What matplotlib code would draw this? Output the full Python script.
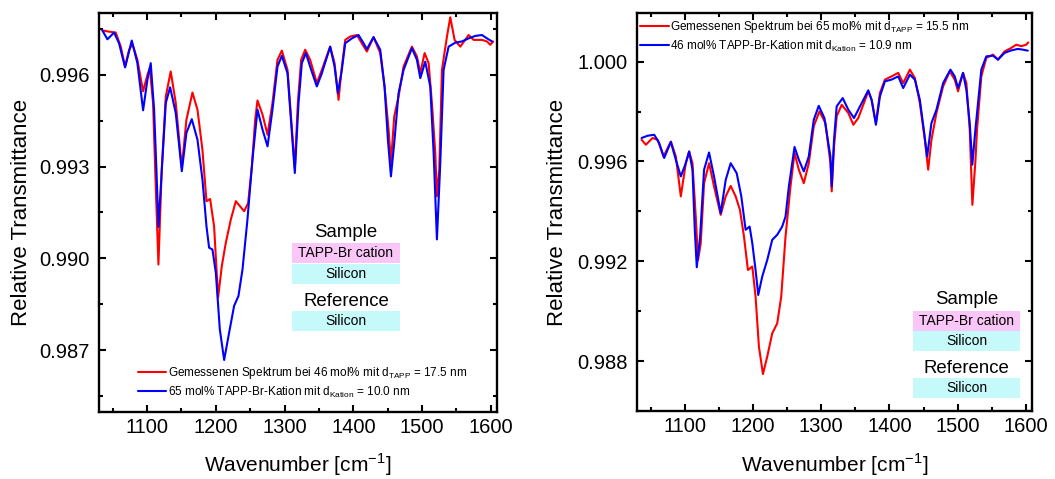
import matplotlib

matplotlib.use("Agg")
import matplotlib.pyplot as plt
from matplotlib.patches import Rectangle
from matplotlib.ticker import MultipleLocator, FormatStrFormatter

plt.rcParams["font.family"] = ["Liberation Sans", "DejaVu Sans"]
plt.rcParams["mathtext.fontset"] = "custom"
plt.rcParams["mathtext.rm"] = "Liberation Sans"
plt.rcParams["lines.solid_joinstyle"] = "round"
plt.rcParams["lines.solid_capstyle"] = "round"

# ---- left panel: 46 mol% measured vs 65 mol% cation ----
left_red_wn = [1035.0, 1044.7, 1054.4, 1061.7, 1068.0, 1073.8, 1078.7, 1085.9, 1094.2, 1100.5,
               1103.9, 1108.7, 1112.6, 1116.5, 1121.3, 1127.2, 1134.4, 1141.7, 1150.5, 1157.2,
               1166.0, 1173.3, 1180.5, 1186.4, 1191.7, 1197.5, 1203.3, 1208.7, 1214.5, 1221.8,
               1229.1, 1234.9, 1241.2, 1247.0, 1252.4, 1257.2, 1260.6, 1267.9, 1275.2, 1282.4,
               1289.7, 1296.0, 1304.3, 1314.9, 1319.3, 1324.1, 1330.0, 1337.2, 1346.9, 1354.2,
               1366.3, 1372.7, 1378.5, 1383.3, 1388.2, 1395.5, 1405.2, 1412.4, 1419.7, 1429.4,
               1439.1, 1445.4, 1451.3, 1454.7, 1459.5, 1465.8, 1473.1, 1485.2, 1492.5, 1497.4,
               1503.7, 1509.5, 1514.3, 1519.2, 1521.6, 1525.0, 1528.9, 1536.2, 1541.0, 1547.3,
               1555.6, 1567.7, 1575.0, 1587.1, 1594.4, 1599.2, 1603.5]
left_red_t = [0.99745, 0.99741, 0.99738, 0.99692, 0.99627, 0.99681, 0.99701, 0.99649, 0.99546, 0.99600,
              0.99622, 0.99508, 0.99236, 0.98980, 0.99290, 0.99529, 0.99611, 0.99508, 0.99296, 0.99453,
              0.99542, 0.99486, 0.99355, 0.99187, 0.99194, 0.99104, 0.98872, 0.98975, 0.99051, 0.99127,
              0.99187, 0.99171, 0.99154, 0.99181, 0.99301, 0.99453, 0.99516, 0.99470, 0.99404, 0.99508,
              0.99649, 0.99679, 0.99616, 0.99295, 0.99508, 0.99649, 0.99682, 0.99649, 0.99573, 0.99616,
              0.99692, 0.99638, 0.99518, 0.99627, 0.99714, 0.99725, 0.99730, 0.99703, 0.99676, 0.99723,
              0.99671, 0.99562, 0.99421, 0.99312, 0.99464, 0.99529, 0.99627, 0.99692, 0.99660, 0.99605,
              0.99671, 0.99638, 0.99508, 0.99345, 0.99203, 0.99290, 0.99616, 0.99725, 0.99788, 0.99714,
              0.99692, 0.99730, 0.99714, 0.99714, 0.99709, 0.99698, 0.99709]

left_blue_wn = [1035.0, 1042.3, 1052.0, 1059.2, 1068.0, 1077.7, 1085.9, 1094.2, 1100.5, 1105.3,
                1110.2, 1113.6, 1116.5, 1122.3, 1127.2, 1133.5, 1141.7, 1150.5, 1157.2, 1165.0,
                1173.3, 1180.5, 1186.4, 1190.2, 1195.1, 1200.0, 1205.8, 1212.1, 1219.4, 1226.6,
                1232.9, 1238.8, 1246.0, 1253.3, 1260.6, 1267.9, 1275.2, 1282.4, 1289.7, 1296.0,
                1304.3, 1314.9, 1320.3, 1325.1, 1330.9, 1338.7, 1346.9, 1354.2, 1366.3, 1372.7,
                1377.5, 1383.3, 1388.2, 1397.9, 1407.6, 1414.9, 1419.7, 1429.4, 1439.1, 1445.4,
                1450.3, 1454.7, 1459.5, 1465.8, 1473.1, 1485.2, 1492.5, 1497.4, 1504.6, 1511.9,
                1516.8, 1521.6, 1526.5, 1531.3, 1538.6, 1548.3, 1558.0, 1567.7, 1577.4, 1587.1,
                1594.4, 1601.7]
left_blue_t = [0.99745, 0.99716, 0.99738, 0.99703, 0.99624, 0.99712, 0.99638, 0.99484, 0.99584, 0.99638,
               0.99486, 0.99290, 0.99103, 0.99323, 0.99508, 0.99559, 0.99475, 0.99285, 0.99410, 0.99455,
               0.99388, 0.99258, 0.99105, 0.99035, 0.99029, 0.98953, 0.98768, 0.98668, 0.98758, 0.98845,
               0.98877, 0.98964, 0.99127, 0.99323, 0.99486, 0.99421, 0.99366, 0.99486, 0.99627, 0.99662,
               0.99605, 0.99279, 0.99508, 0.99638, 0.99671, 0.99616, 0.99562, 0.99605, 0.99692, 0.99627,
               0.99540, 0.99616, 0.99703, 0.99719, 0.99730, 0.99703, 0.99684, 0.99723, 0.99682, 0.99562,
               0.99388, 0.99268, 0.99377, 0.99540, 0.99616, 0.99687, 0.99649, 0.99589, 0.99643, 0.99562,
               0.99345, 0.99062, 0.99312, 0.99616, 0.99692, 0.99705, 0.99709, 0.99719, 0.99727, 0.99730,
               0.99719, 0.99709]

# ---- right panel: 65 mol% measured vs 46 mol% cation ----
right_red_wn = [1036.7, 1043.0, 1052.8, 1060.1, 1068.9, 1079.6, 1086.9, 1094.2, 1101.5, 1106.4,
                1111.3, 1116.1, 1119.5, 1123.4, 1128.3, 1135.6, 1142.9, 1152.7, 1160.0, 1167.3,
                1174.6, 1180.9, 1186.8, 1192.6, 1199.0, 1203.8, 1208.7, 1214.6, 1220.9, 1228.2,
                1235.5, 1241.4, 1247.7, 1255.0, 1260.9, 1267.2, 1274.5, 1281.8, 1289.1, 1297.4,
                1306.2, 1313.5, 1315.4, 1318.8, 1322.7, 1330.1, 1339.8, 1347.1, 1354.4, 1369.0,
                1373.9, 1380.2, 1386.1, 1393.4, 1403.2, 1412.9, 1420.2, 1430.0, 1437.3, 1444.6,
                1451.9, 1456.8, 1461.6, 1468.9, 1478.7, 1488.4, 1495.7, 1500.6, 1507.9, 1512.8,
                1517.7, 1521.6, 1526.0, 1528.4, 1534.7, 1542.0, 1551.8, 1559.1, 1568.8, 1578.6,
                1585.9, 1593.2, 1600.5, 1603.5]
right_red_t = [0.99687, 0.99667, 0.99694, 0.99687, 0.99620, 0.99680, 0.99620, 0.99460, 0.99593, 0.99640,
               0.99593, 0.99379, 0.99205, 0.99272, 0.99513, 0.99593, 0.99500, 0.99386, 0.99460, 0.99502,
               0.99460, 0.99406, 0.99299, 0.99165, 0.99179, 0.99058, 0.98858, 0.98748, 0.98818, 0.98911,
               0.98951, 0.99058, 0.99299, 0.99500, 0.99634, 0.99567, 0.99513, 0.99593, 0.99741, 0.99801,
               0.99754, 0.99593, 0.99480, 0.99660, 0.99781, 0.99827, 0.99794, 0.99747, 0.99774, 0.99881,
               0.99847, 0.99754, 0.99874, 0.99928, 0.99941, 0.99955, 0.99914, 0.99968, 0.99934, 0.99834,
               0.99687, 0.99567, 0.99687, 0.99794, 0.99901, 0.99961, 0.99928, 0.99881, 0.99955, 0.99914,
               0.99727, 0.99426, 0.99600, 0.99727, 0.99941, 1.00015, 1.00028, 1.00008, 1.00041, 1.00055,
               1.00068, 1.00062, 1.00068, 1.00077]

right_blue_wn = [1036.7, 1045.5, 1055.2, 1062.5, 1069.8, 1079.6, 1086.9, 1094.2, 1101.5, 1106.4,
                 1111.3, 1114.7, 1117.6, 1122.5, 1128.3, 1135.6, 1142.9, 1152.7, 1160.0, 1167.3,
                 1176.1, 1182.9, 1189.2, 1195.1, 1199.0, 1203.8, 1207.7, 1213.6, 1220.9, 1228.2,
                 1235.5, 1242.8, 1247.7, 1252.6, 1260.9, 1267.2, 1274.5, 1281.8, 1289.1, 1296.4,
                 1304.7, 1313.5, 1315.4, 1318.8, 1322.7, 1331.5, 1339.8, 1348.1, 1356.9, 1369.0,
                 1373.9, 1380.2, 1386.1, 1393.4, 1403.2, 1412.9, 1420.2, 1430.0, 1437.3, 1444.6,
                 1450.4, 1455.3, 1461.6, 1468.9, 1478.7, 1489.4, 1495.7, 1500.6, 1507.9, 1512.8,
                 1517.7, 1521.5, 1526.0, 1534.7, 1542.0, 1551.8, 1559.1, 1568.8, 1578.6, 1588.3,
                 1595.6, 1602.9]
right_blue_t = [0.99694, 0.99703, 0.99707, 0.99674, 0.99614, 0.99678, 0.99607, 0.99540, 0.99593, 0.99640,
                0.99567, 0.99326, 0.99176, 0.99299, 0.99567, 0.99636, 0.99540, 0.99393, 0.99526, 0.99593,
                0.99553, 0.99460, 0.99326, 0.99339, 0.99272, 0.99165, 0.99065, 0.99139, 0.99205, 0.99286,
                0.99306, 0.99339, 0.99379, 0.99500, 0.99658, 0.99607, 0.99560, 0.99620, 0.99767, 0.99823,
                0.99774, 0.99620, 0.99500, 0.99687, 0.99821, 0.99854, 0.99807, 0.99774, 0.99821, 0.99885,
                0.99847, 0.99747, 0.99861, 0.99921, 0.99928, 0.99941, 0.99894, 0.99948, 0.99928, 0.99847,
                0.99727, 0.99620, 0.99754, 0.99807, 0.99914, 0.99968, 0.99941, 0.99894, 0.99955, 0.99887,
                0.99754, 0.99587, 0.99727, 0.99968, 1.00021, 1.00024, 1.00008, 1.00035, 1.00045, 1.00051,
                1.00048, 1.00044]

left_labels = ["Gemessenen Spektrum bei 46 mol% mit d$_\\mathregular{TAPP}$ = 17.5 nm",
               "65 mol% TAPP-Br-Kation mit d$_\\mathregular{Kation}$ = 10.0 nm"]
right_labels = ["Gemessenen Spektrum bei 65 mol% mit d$_\\mathregular{TAPP}$ = 15.5 nm",
                "46 mol% TAPP-Br-Kation mit d$_\\mathregular{Kation}$ = 10.9 nm"]

PINK = "#F9C6F7"
CYAN = "#C6F9F9"


def style_axes(ax, ylim, ymajor):
    ax.set_xlim(1030, 1609)
    ax.set_ylim(*ylim)
    ax.xaxis.set_major_locator(MultipleLocator(100))
    ax.xaxis.set_minor_locator(MultipleLocator(50))
    ax.yaxis.set_major_locator(MultipleLocator(ymajor))
    ax.yaxis.set_minor_locator(MultipleLocator(ymajor / 2))
    ax.yaxis.set_major_formatter(FormatStrFormatter("%.3f"))
    for sp in ax.spines.values():
        sp.set_linewidth(1.7)
    ax.tick_params(which="both", direction="in", top=True, right=True, width=1.5)
    ax.tick_params(which="major", length=5, labelsize=14.5)
    ax.tick_params(which="minor", length=2.7)
    ax.tick_params(axis="y", which="major", pad=6.5)
    ax.tick_params(axis="x", which="major", pad=4.5)
    ax.set_xlabel("Wavenumber [cm$^\\mathregular{-1}$]", fontsize=15, va="baseline")
    ax.set_ylabel("Relative Transmittance", fontsize=16, va="baseline")


def sample_boxes(ax, x0, w, y_sample, y_tapp, y_si, y_ref, y_ref_si, h):
    xc = x0 + w / 2
    ax.text(xc, y_sample, "Sample", transform=ax.transAxes, ha="center", va="center", fontsize=13.4)
    ax.add_patch(Rectangle((x0, y_tapp), w, h, transform=ax.transAxes, facecolor=PINK, edgecolor="none"))
    ax.text(xc, y_tapp + h / 2, "TAPP-Br cation", transform=ax.transAxes, ha="center", va="center", fontsize=10)
    ax.add_patch(Rectangle((x0, y_si), w, h, transform=ax.transAxes, facecolor=CYAN, edgecolor="none"))
    ax.text(xc, y_si + h / 2, "Silicon", transform=ax.transAxes, ha="center", va="center", fontsize=10)
    ax.text(xc, y_ref, "Reference", transform=ax.transAxes, ha="center", va="center", fontsize=13.4)
    ax.add_patch(Rectangle((x0, y_ref_si), w, h, transform=ax.transAxes, facecolor=CYAN, edgecolor="none"))
    ax.text(xc, y_ref_si + h / 2, "Silicon", transform=ax.transAxes, ha="center", va="center", fontsize=10)


fig = plt.figure(figsize=(10.55, 4.79), dpi=100)
ax1 = fig.add_axes([0.0938, 0.1399, 0.3773, 0.833])
ax2 = fig.add_axes([0.6038, 0.1420, 0.3744, 0.8309])

ax1.plot(left_red_wn, left_red_t, color="#FF0000", lw=1.5, label=left_labels[0])
ax1.plot(left_blue_wn, left_blue_t, color="#0000FF", lw=1.5, label=left_labels[1])
style_axes(ax1, (0.98498, 0.99802), 0.003)
ax1.yaxis.set_label_coords(-0.181, 0.5)
ax1.xaxis.set_label_coords(0.5, -0.150)
ax1.legend(loc="upper left", bbox_to_anchor=(0.097, 0.118), frameon=False, fontsize=8.5,
           handlelength=2.4, handletextpad=0.15, borderpad=0, borderaxespad=0, labelspacing=0.3)
sample_boxes(ax1, 0.485, 0.271, 0.451, 0.373, 0.321, 0.276, 0.203, 0.051)

ax2.plot(right_red_wn, right_red_t, color="#FF0000", lw=1.5, label=right_labels[0])
ax2.plot(right_blue_wn, right_blue_t, color="#0000FF", lw=1.5, label=right_labels[1])
style_axes(ax2, (0.98600, 1.00195), 0.004)
ax2.yaxis.set_label_coords(-0.187, 0.5)
ax2.xaxis.set_label_coords(0.5, -0.1525)
ax2.legend(loc="upper left", bbox_to_anchor=(0.008, 0.985), frameon=False, fontsize=8.5,
           handlelength=2.4, handletextpad=0.15, borderpad=0, borderaxespad=0, labelspacing=0.3)
sample_boxes(ax2, 0.699, 0.271, 0.281, 0.201, 0.151, 0.106, 0.033, 0.050)

fig.savefig("out.png", dpi=100)
